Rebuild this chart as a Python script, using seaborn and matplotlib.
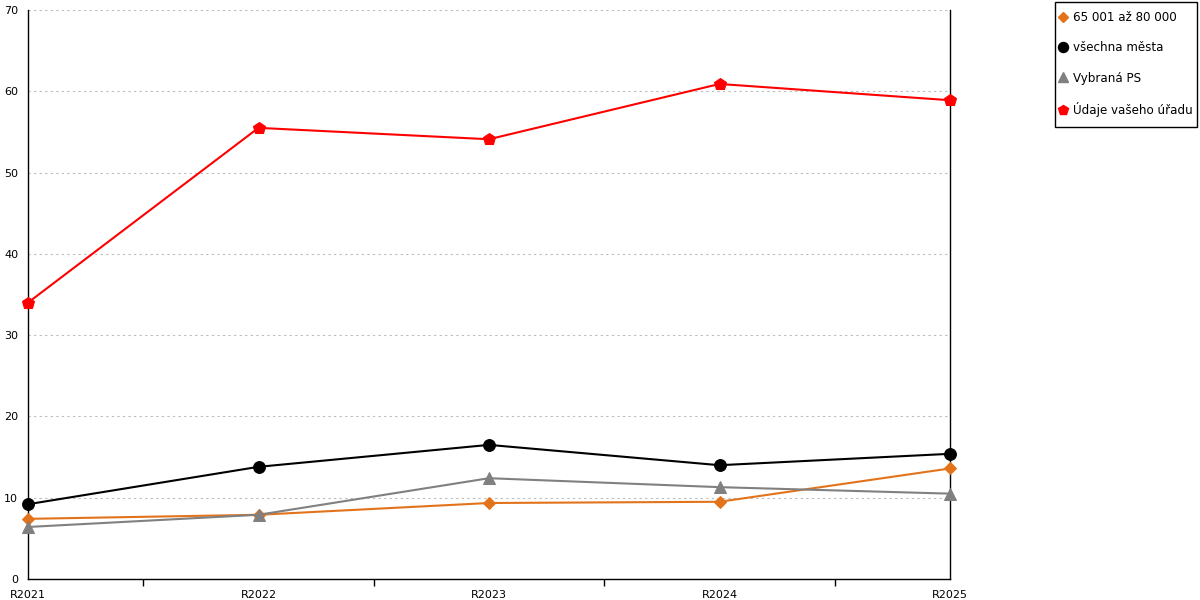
import matplotlib
matplotlib.use("Agg")
import matplotlib.pyplot as plt
from matplotlib.lines import Line2D
from matplotlib.patches import Rectangle
import seaborn as sns
import pandas as pd

categories = ["R2021", "R2022", "R2023", "R2024", "R2025"]
series_names = ["65 001 až 80 000", "všechna města", "Vybraná PS", "Údaje vašeho úřadu"]
vals_orange = [7.4, 7.9, 9.35, 9.5, 13.6]
vals_black = [9.2, 13.8, 16.5, 14.0, 15.4]
vals_gray = [6.4, 7.9, 12.4, 11.3, 10.5]
vals_red = [34.0, 55.5, 54.1, 60.9, 58.9]
y_ticks = [0, 10, 20, 30, 40, 50, 60, 70]

colors = {series_names[0]: "#E3731B", series_names[1]: "#000000",
          series_names[2]: "#808080", series_names[3]: "#FF0000"}
markers = {series_names[0]: "D", series_names[1]: "o",
           series_names[2]: "^", series_names[3]: "p"}
msizes = {series_names[0]: 6, series_names[1]: 8.5,
          series_names[2]: 8.5, series_names[3]: 9}

rows = []
for name, vals in zip(series_names, [vals_orange, vals_black, vals_gray, vals_red]):
    for i, (c, v) in enumerate(zip(categories, vals)):
        rows.append({"x": i, "cat": c, "value": v, "series": name})
df = pd.DataFrame(rows)

sns.set_theme(style="white")
plt.rcParams['font.family'] = ['DejaVu Sans']
plt.rcParams['text.color'] = 'black'
plt.rcParams['xtick.color'] = 'black'
plt.rcParams['ytick.color'] = 'black'
plt.rcParams['xtick.labelcolor'] = 'black'
plt.rcParams['ytick.labelcolor'] = 'black'

fig = plt.figure(figsize=(12, 6), dpi=100)
ax = fig.add_axes([28/1200, 1 - 579/600, (950-28)/1200, (579-10)/600])

for name in series_names:
    sub = df[df["series"] == name]
    sns.lineplot(data=sub, x="x", y="value", ax=ax, color=colors[name],
                 marker=markers[name], markersize=msizes[name],
                 markeredgecolor=colors[name], linewidth=1.5, legend=False,
                 clip_on=False, zorder=3)

ax.set_xlim(0, 4)
ax.set_ylim(0, 70)
ax.set_yticks(y_ticks)
ax.set_yticklabels([str(t) for t in y_ticks], fontsize=8)
ax.set_xticks(range(len(categories)))
ax.set_xticklabels(categories, fontsize=8)
ax.set_xticks([0.5, 1.5, 2.5, 3.5], minor=True)
ax.tick_params(axis="x", which="minor", direction="out", length=5, width=1,
               color="black", bottom=True)
ax.tick_params(axis="x", which="major", length=0, pad=8)
ax.tick_params(axis="y", which="both", length=0, pad=7)
ax.set_xlabel("")
ax.set_ylabel("")
ax.grid(axis="y", color="#BBBBBB", linestyle=(0, (2, 3)), linewidth=0.8)
ax.set_axisbelow(True)
for s in ["left", "bottom", "right"]:
    ax.spines[s].set_visible(True)
    ax.spines[s].set_color("black")
    ax.spines[s].set_linewidth(1)
ax.spines["top"].set_visible(False)

# legend frame
fig.patches.append(Rectangle((1055/1200, 1 - 127/600), (1197-1055)/1200, (127-2)/600,
                             transform=fig.transFigure, fill=True, facecolor="white",
                             edgecolor="black", linewidth=1, zorder=1))

handles = [Line2D([], [], linestyle="none", marker=markers[n], color=colors[n],
                  markersize=msizes[n] * 0.85) for n in series_names]
leg = fig.legend(handles, series_names, loc="upper left",
                 bbox_to_anchor=(1059/1200, 1 - 11/600), frameon=False,
                 fontsize=8.6, labelspacing=1.45, handlelength=0.6,
                 handletextpad=0.55, borderpad=0, borderaxespad=0)
leg.set_zorder(2)
for t in leg.get_texts():
    t.set_color("black")

fig.savefig("out.png", dpi=100, facecolor="white")
